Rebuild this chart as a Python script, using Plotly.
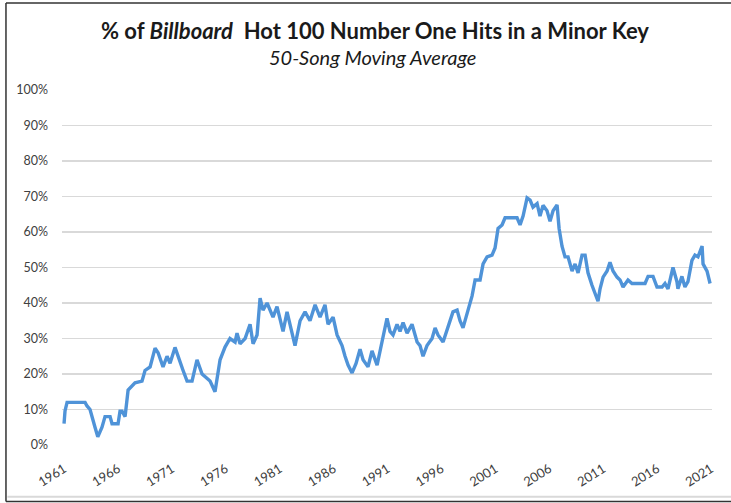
import plotly.graph_objects as go

years = [1961.00, 1961.09, 1961.28, 1962.95, 1963.13, 1963.41, 1963.87, 1964.13, 1964.52, 1964.80,
         1965.27, 1965.45, 1966.01, 1966.19, 1966.38, 1966.66, 1966.94, 1967.58, 1968.23, 1968.51,
         1968.98, 1969.44, 1969.72, 1970.18, 1970.55, 1970.83, 1971.29, 1971.76, 1972.04, 1972.41,
         1972.87, 1973.33, 1973.80, 1974.54, 1975.00, 1975.47, 1975.93, 1976.39, 1976.86, 1977.04,
         1977.32, 1977.79, 1978.25, 1978.53, 1978.90, 1979.18, 1979.45, 1979.83, 1980.10, 1980.38,
         1980.75, 1981.03, 1981.31, 1981.68, 1981.96, 1982.42, 1982.89, 1983.35, 1983.81, 1984.28,
         1984.74, 1985.20, 1985.48, 1985.95, 1986.32, 1986.78, 1987.06, 1987.34, 1987.71, 1988.08,
         1988.45, 1988.73, 1989.19, 1989.56, 1990.03, 1990.31, 1990.58, 1990.95, 1991.23, 1991.51,
         1991.88, 1992.16, 1992.44, 1992.81, 1993.27, 1993.74, 1994.01, 1994.29, 1994.66, 1995.13,
         1995.41, 1995.68, 1996.15, 1996.61, 1997.07, 1997.45, 1997.72, 1998.00, 1998.47, 1998.84,
         1999.12, 1999.58, 1999.86, 2000.23, 2000.69, 2000.97, 2001.25, 2001.62, 2001.90, 2003.01,
         2003.29, 2003.57, 2003.94, 2004.22, 2004.49, 2004.87, 2005.14, 2005.42, 2005.79, 2006.07,
         2006.35, 2006.72, 2006.91, 2007.18, 2007.46, 2007.74, 2008.11, 2008.39, 2008.67, 2009.04,
         2009.32, 2009.59, 2009.96, 2010.24, 2010.52, 2010.71, 2010.99, 2011.36, 2011.63, 2011.91,
         2012.28, 2012.56, 2012.84, 2013.30, 2013.67, 2014.88, 2015.16, 2015.62, 2015.99, 2016.46,
         2016.73, 2017.01, 2017.47, 2017.84, 2017.93, 2018.30, 2018.58, 2018.86, 2019.23, 2019.51,
         2019.79, 2020.17, 2020.26, 2020.63, 2020.91]

pct_minor = [6, 9.6, 12, 12, 11, 10, 5, 2.3, 5, 8,
             8, 6, 6, 9.5, 9.5, 8, 15.5, 17.5, 18, 21,
             22, 27.3, 26, 22, 25, 23, 27.5, 23, 21, 18,
             18, 24, 20, 18, 15, 24, 27.6, 30, 29, 31.5,
             28.5, 30, 34, 28.5, 31, 41.4, 38, 40, 38, 36,
             39, 35, 32, 37.5, 34, 28, 35, 37.5, 35, 39.5,
             36, 39.5, 34, 36, 31, 28, 25, 22.5, 20.3, 23,
             27, 24, 22, 26.5, 22.5, 26.5, 30.5, 35.7, 32, 31,
             34, 32, 34.5, 31.5, 34, 29, 28, 25, 28, 30,
             33, 31, 29, 33, 37.5, 38, 35, 33, 38, 42,
             46.5, 46.5, 51, 53, 53.5, 55.5, 61, 62, 64, 64,
             62, 64.5, 69.6, 69, 67, 68, 64.5, 67.5, 66, 63,
             66, 67.6, 61, 56, 53, 53, 49, 51, 48.5, 53.5,
             53.5, 48.5, 45, 43, 40.5, 44, 47.3, 49, 51.5, 49,
             47.3, 46.5, 44.5, 46.5, 45.5, 45.5, 47.5, 47.5, 44.5, 44.5,
             45.5, 44, 50, 46, 44, 47.5, 44.5, 46, 52, 53.5,
             53, 56, 51, 49, 45.5]

tick_years = [1961, 1966, 1971, 1976, 1981, 1986, 1991, 1996, 2001, 2006, 2011, 2016, 2021]
tick_labels = [str(y) for y in tick_years]
y_ticks = [0, 10, 20, 30, 40, 50, 60, 70, 80, 90, 100]
y_labels = [f"{v}%" for v in y_ticks]

FONT = "Lato, 'Open Sans', sans-serif"

fig = go.Figure()
fig.add_trace(go.Scatter(
    x=years, y=pct_minor, mode="lines",
    line=dict(color="#4F93D8", width=3.4),
    hoverinfo="skip", showlegend=False,
))

fig.update_layout(
    width=731, height=503,
    margin=dict(l=62, r=19, t=90, b=58),
    paper_bgcolor="white", plot_bgcolor="white",
    font=dict(family=FONT, color="#404040", size=12.5),
    xaxis=dict(
        range=[1960.81, 2021.09],
        tickmode="array", tickvals=tick_years, ticktext=tick_labels,
        tickangle=-32, showgrid=False, zeroline=False, showline=False,
        ticks="", tickfont=dict(size=13, color="#404040"),
        ticklabelstandoff=13, automargin=False,
    ),
    yaxis=dict(
        range=[0, 100],
        tickmode="array", tickvals=y_ticks, ticktext=y_labels,
        showgrid=True, gridcolor="#d9d9d9", gridwidth=1.5,
        zeroline=False, showline=False, ticks="",
        tickfont=dict(size=12.5, color="#404040"),
        ticklabelstandoff=13, automargin=False,
    ),
    annotations=[
        dict(text="% of <i>Billboard</i>  Hot 100 Number One Hits in a Minor Key",
             xref="paper", yref="paper", x=0.4815, y=1.169,
             xanchor="center", yanchor="middle", showarrow=False,
             font=dict(family=FONT, size=22, color="#1a1a1a", weight="bold")),
        dict(text="<i>50-Song Moving Average</i>",
             xref="paper", yref="paper", x=0.477, y=1.093,
             xanchor="center", yanchor="middle", showarrow=False,
             font=dict(family=FONT, size=20, color="#1a1a1a")),
    ],
    shapes=[
        dict(type="line", xref="paper", yref="paper", x0=-0.0862, x1=-0.0862, y0=-0.159, y1=1.245,
             line=dict(color="#333333", width=1.5)),
        dict(type="line", xref="paper", yref="paper", x0=-0.0862, x1=1.04, y0=1.245, y1=1.245,
             line=dict(color="#333333", width=1.5)),
        dict(type="line", xref="paper", yref="paper", x0=-0.0862, x1=1.04, y0=-0.159, y1=-0.159,
             line=dict(color="#333333", width=1.5)),
        dict(type="line", xref="paper", yref="paper", x0=-0.084, x1=1.04, y0=-0.146, y1=-0.146,
             line=dict(color="#d9d9d9", width=2)),
    ],
)

fig.write_html("out.html", config={"displayModeBar": False, "staticPlot": True})

# remove the default page margin so the figure sits at the window's top-left corner
with open("out.html", "r", encoding="utf-8") as f:
    html = f.read()
html = html.replace("<head>", "<head><style>html,body{margin:0;padding:0;overflow:hidden;}</style>", 1)
with open("out.html", "w", encoding="utf-8") as f:
    f.write(html)
